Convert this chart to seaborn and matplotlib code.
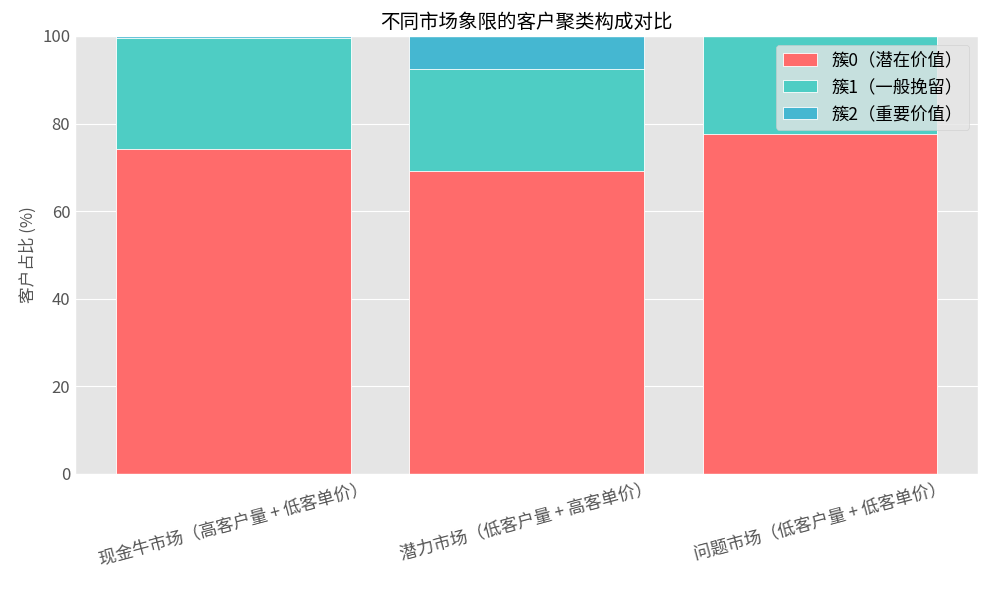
import numpy as np
import pandas as pd
import seaborn as sns
from matplotlib import pyplot as plt

markets = ["现金牛市场（高客户量 + 低客单价）", "潜力市场（低客户量 + 高客单价）", "问题市场（低客户量 + 低客单价）"]
cluster_names = ["簇0（潜在价值）", "簇1（一般挽留）", "簇2（重要价值）"]
cluster0 = [74.2, 69.2, 77.6]
cluster1 = [25.4, 23.2, 22.4]
cluster2 = [0.4, 7.6, 0.0]
colors = ["#FF6B6B", "#4ECDC4", "#45B7D1"]

plt.style.use("ggplot")
sns.set_style({"axes.facecolor": "#E5E5E5", "grid.color": "white"})
plt.rcParams["font.family"] = ["Noto Sans CJK SC", "DejaVu Sans"]
plt.rcParams["axes.unicode_minus"] = False

layers = np.cumsum(np.array([cluster0, cluster1, cluster2]), axis=0)
df = pd.DataFrame({"market": markets})

fig, ax = plt.subplots(figsize=(9.89, 5.9), dpi=100)
# draw cumulative totals from the top layer down so each segment shows its share
for i in reversed(range(3)):
    df["value"] = layers[i]
    sns.barplot(data=df, x="market", y="value", color=colors[i], width=0.8,
                saturation=1, edgecolor="white", linewidth=0.6,
                label=cluster_names[i], ax=ax)

handles, labels = ax.get_legend_handles_labels()
ax.legend(handles[::-1], labels[::-1], loc="upper right", fontsize=12.5,
          framealpha=0.8, facecolor="#E5E5E5")
ax.set_ylim(0, 100)
ax.set_xlim(-0.54, 2.54)
ax.set_xlabel("")
ax.set_ylabel("客户占比 (%)", fontsize=12)
ax.set_title("不同市场象限的客户聚类构成对比", fontsize=14)
ax.tick_params(axis="x", labelsize=12.5, rotation=15, length=0)
ax.tick_params(axis="y", labelsize=12, length=0)
ax.grid(axis="x", visible=False)
fig.subplots_adjust(left=0.076, right=0.989, top=0.939, bottom=0.197)
plt.savefig("out.png")
